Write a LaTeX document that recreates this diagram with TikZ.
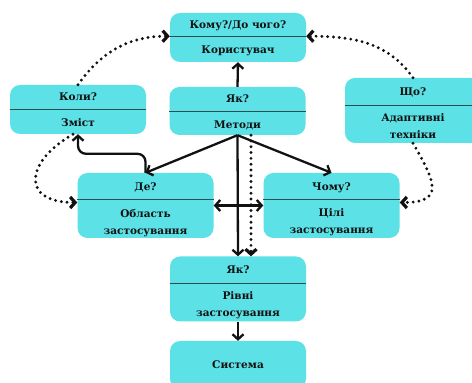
\documentclass[tikz,border=0pt]{standalone}
\usepackage{fontspec}
\setmainfont{DejaVu Serif}
\usepackage{tikz}
\usetikzlibrary{positioning, arrows.meta}

\definecolor{boxcyan}{HTML}{5CE1E6}
\definecolor{lineteal}{HTML}{2A4D50}
\definecolor{inkblack}{HTML}{111111}

\begin{document}
\begin{tikzpicture}[
    % GLOBAL CFG
    x=1pt, y=1pt,
    font=\bfseries\fontsize{10.5}{17}\selectfont,
    >={Straight Barb[length=5pt,width=11pt]},
    % Styles
    card/.style={% For the coloured boxes
        rectangle,
        rounded corners=10pt,
        fill=boxcyan,
        minimum width=136pt,
        inner sep=0pt,
        },
    head/.style={% For the question on top of a box
        minimum height=24pt,
        inner sep=0pt,
        text height=7.7pt,
        text depth=0pt,
        text=inkblack,
        },
    body/.style={% For the answer under the line
        align=center,
        inner sep=0pt,
        text=inkblack,
        },
    divider/.style={% Line between question and answer
        draw=lineteal,
        line width=1.2pt,
        },
    ArrowS/.style={% Solid arrows
        ->,
        draw=inkblack,
        line width=2.3pt,
        },
    ArrowD/.style={% Dotted arrows
        ->,
        draw=inkblack,
        line width=3.2pt,
        line cap=round,
        dash pattern=on 0pt off 5.8pt,
        }
    ]

    \useasboundingbox (0,0) rectangle (472,383);
    \clip (0,0) rectangle (472,383);

    % Draw the boxes
    \node [card, minimum height=49pt] (user) at (238,345.5) {};
    \node [card, minimum height=49pt] (when) at (78,273.5) {};
    \node [card, minimum height=48pt] (how) at (237.5,272) {};
    \node [card, minimum height=65pt] (what) at (413,272.5) {};
    \node [card, minimum height=65pt] (where) at (145.5,177.5) {};
    \node [card, minimum height=65pt] (why) at (331.5,177.5) {};
    \node [card, minimum height=65pt] (level) at (238,94) {};
    \node [card, minimum height=48pt] (system) at (238,18) {};

    % Questions, named as basis box-q
    \node [head, minimum height=23pt, below=0pt of user.north] (user-q) {Кому?/До чого?};
    \node [head, below=0pt of when.north] (when-q) {Коли?};
    \node [head, below=0pt of how.north] (how-q) {Як?};
    \node [head, minimum height=27pt, below=0pt of what.north] (what-q) {Що?};
    \node [head, minimum height=26.5pt, below=0pt of where.north] (where-q) {Де?};
    \node [head, minimum height=26.5pt, below=0pt of why.north] (why-q) {Чому?};
    \node [head, minimum height=26.5pt, below=0pt of level.north] (level-q) {Як?};

    % Dividers
    \draw [divider] (user.west |- user-q.south) -- (user.east |- user-q.south);
    \draw [divider] (when.west |- when-q.south) -- (when.east |- when-q.south);
    \draw [divider] (how.west |- how-q.south) -- (how.east |- how-q.south);
    \draw [divider] (what.west |- what-q.south) -- (what.east |- what-q.south);
    \draw [divider] (where.west |- where-q.south) -- (where.east |- where-q.south);
    \draw [divider] (why.west |- why-q.south) -- (why.east |- why-q.south);
    \draw [divider] (level.west |- level-q.south) -- (level.east |- level-q.south);

    % Answers, named as basis box-a
    \node [body, below=9.5pt of user-q] (user-a) {Користувач};
    \node [body, below=9pt of when-q] (when-a) {Зміст};
    \node [body, below=9pt of how-q] (how-a) {Методи};
    \node [body, below=8.5pt of what-q] (what-a) {Адаптивні\\техніки};
    \node [body, below=9pt of where-q] (where-a) {Область\\застосування};
    \node [body, below=9pt of why-q] (why-a) {Цілі\\застосування};
    \node [body, below=8.5pt of level-q] (level-a) {Рівні\\застосування};
    \node [body] (system-a) at (system) {Система};

% Start connecting all.
    % Solid arrows
    \draw [ArrowS] (how.north) -- (user.south);
    \draw [ArrowS] (how.south) -- (where.north);
    \draw [ArrowS] (how.south) -- (why.north);
    \draw [ArrowS] (how.south) -- (level.north);
    \draw [ArrowS] (level.south) -- (system.north);
    \draw [ArrowS, <->] (where.east) -- (why.west);
    \draw [ArrowS, rounded corners=8pt] (where.north) -- ++(0,19) -| (when.south);

    % Dotted arrows
    \draw [ArrowD] ([xshift=13.5pt]how.south) -- ([xshift=13pt]level.north);
    \draw [ArrowD] (when.north) to[out=55, in=180] (user.west |- user-q.south);
    \draw [ArrowD] (what.north) to[out=125, in=0] (user.east |- user-q.south);
    \draw [ArrowD] ([xshift=-5pt]when.south) to[out=210, in=180, looseness=2.1] ([yshift=3pt]where.west);
    \draw [ArrowD] (what.south) to[out=-60, in=0, looseness=1.9] ([yshift=3pt]why.east);

\end{tikzpicture}
\end{document}
